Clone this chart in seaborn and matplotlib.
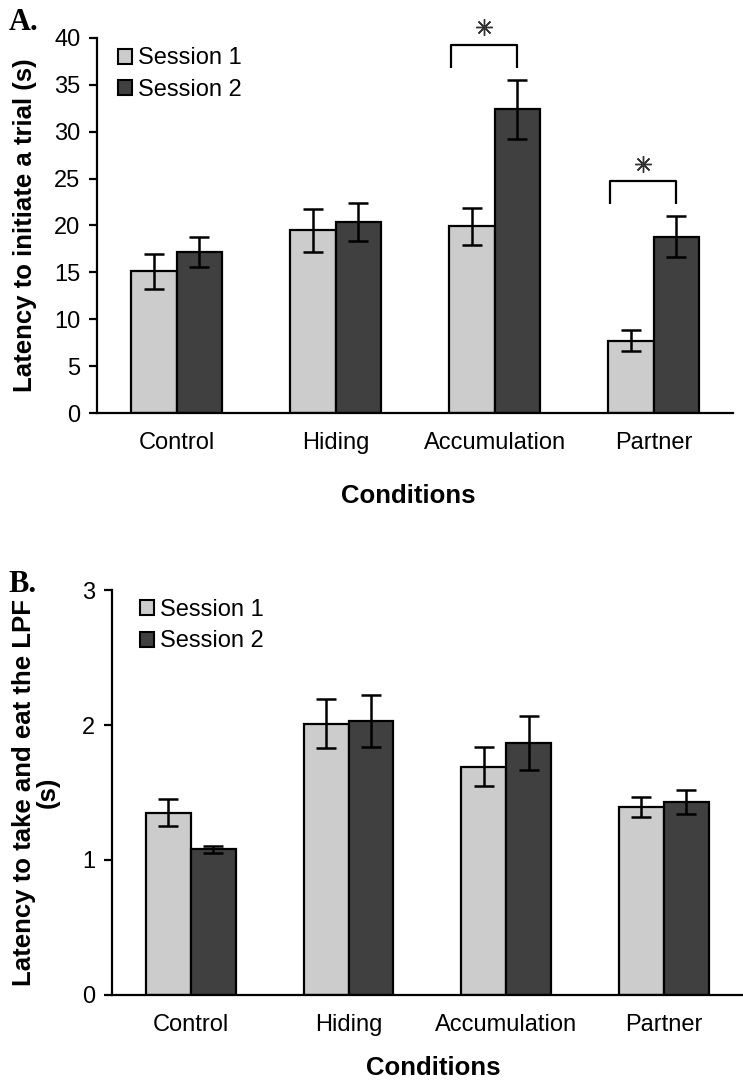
import seaborn as sns
import matplotlib.pyplot as plt
import matplotlib.patches as mpatches
import pandas as pd
import numpy as np

# ----------------------------
# Data
# ----------------------------
conditions = ['Control', 'Hiding', 'Accumulation', 'Partner']
sessions = ['Session 1', 'Session 2']

# Panel A: latency to initiate a trial (s)
init_s1 = [15.1, 19.5, 19.9, 7.7]
init_s2 = [17.2, 20.4, 32.4, 18.8]
init_err_s1 = [1.9, 2.3, 1.95, 1.1]
init_err_s2 = [1.6, 2.05, 3.15, 2.2]
init_signif = ['Accumulation', 'Partner']

# Panel B: latency to take and eat the LPF (s)
eat_s1 = [1.35, 2.01, 1.69, 1.39]
eat_s2 = [1.08, 2.03, 1.87, 1.43]
eat_err_s1 = [0.10, 0.18, 0.145, 0.074]
eat_err_s2 = [0.027, 0.19, 0.20, 0.089]

colors = {'Session 1': '#cccccc', 'Session 2': '#404040'}


def make_df(s1, s2, e1, e2):
    rows = []
    for c, v, e in zip(conditions, s1, e1):
        rows.append([c, 'Session 1', v, e])
    for c, v, e in zip(conditions, s2, e2):
        rows.append([c, 'Session 2', v, e])
    return pd.DataFrame(rows, columns=['Condition', 'Session', 'Latency', 'SEM'])


df_a = make_df(init_s1, init_s2, init_err_s1, init_err_s2)
df_b = make_df(eat_s1, eat_s2, eat_err_s1, eat_err_s2)

# ----------------------------
# Style
# ----------------------------
sns.set_style("white")
plt.rcParams['font.family'] = ['Liberation Sans', 'DejaVu Sans']
plt.rcParams['text.color'] = 'black'
plt.rcParams['axes.labelcolor'] = 'black'
plt.rcParams['xtick.color'] = 'black'
plt.rcParams['ytick.color'] = 'black'

fig = plt.figure(figsize=(7.43, 10.88), dpi=100)
ax_a = fig.add_axes([0.1306, 0.6204, 0.856, 0.3447])
ax_b = fig.add_axes([0.1507, 0.0855, 0.849, 0.3722])


def draw_panel(ax, df, ymax, yticks, ylabel):
    sns.barplot(data=df, x='Condition', y='Latency', hue='Session',
                order=conditions, hue_order=sessions, palette=colors,
                width=0.57, gap=0, errorbar=None, edgecolor='black',
                linewidth=1.6, legend=False, ax=ax)
    # error bars on top of each bar
    bar_pos = {}
    for sess, cont in zip(sessions, ax.containers):
        sub = df[df['Session'] == sess].set_index('Condition').loc[conditions]
        xs = [p.get_x() + p.get_width() / 2 for p in cont.patches]
        ax.errorbar(xs, sub['Latency'], yerr=sub['SEM'], fmt='none',
                    ecolor='black', elinewidth=1.8, capsize=7, capthick=1.8,
                    zorder=5)
        for c, p in zip(conditions, cont.patches):
            bar_pos[(c, sess)] = p
    ax.set_xlim(-0.5, 3.5)
    ax.set_ylim(0, ymax)
    ax.set_yticks(yticks)
    sns.despine(ax=ax)
    for s in ['left', 'bottom']:
        ax.spines[s].set_linewidth(1.6)
        ax.spines[s].set_color('black')
    ax.tick_params(axis='y', length=6, width=1.6, labelsize=17, pad=6,
                   left=True, color='black')
    ax.tick_params(axis='x', length=0, labelsize=17, pad=14)
    ax.set_xlabel('Conditions', fontsize=18.5, fontweight='bold', va='top')
    ax.set_ylabel(ylabel, fontsize=18.5, fontweight='bold', linespacing=1.0)

    handles = [mpatches.Patch(facecolor=colors[s], edgecolor='black',
                              linewidth=1.5, label=s) for s in sessions]
    return bar_pos, handles


# ----------------------------
# Panel A
# ----------------------------
pos_a, handles = draw_panel(ax_a, df_a, 40, np.arange(0, 41, 5),
                            'Latency to initiate a trial (s)')
ax_a.xaxis.set_label_coords(0.489, -0.19)
ax_a.yaxis.set_label_coords(-0.094, 0.5)
ax_a.legend(handles=handles, loc='upper left', bbox_to_anchor=(0.033, 0.975),
            frameon=False, fontsize=17, handlelength=0.6, handleheight=0.6,
            handletextpad=0.25, labelspacing=0.4, borderpad=0, borderaxespad=0)

# significance brackets
for c in init_signif:
    p1 = pos_a[(c, 'Session 1')]
    p2 = pos_a[(c, 'Session 2')]
    top = df_a[df_a['Condition'] == c].eval('Latency + SEM').max()
    y0 = top + 1.3
    y1 = y0 + 2.4
    x0 = p1.get_x() + 0.01
    x1 = p2.get_x() + p2.get_width() / 2
    ax_a.plot([x0, x0, x1, x1], [y0, y1, y1, y0], color='black', lw=1.6,
              clip_on=False, solid_capstyle='butt')
    ax_a.plot([(x0 + x1) / 2], [y1 + 1.9], marker=(8, 2, 0), markersize=12,
              mew=1.0, color='#333333', clip_on=False)

# ----------------------------
# Panel B
# ----------------------------
pos_b, handles = draw_panel(ax_b, df_b, 3, [0, 1, 2, 3],
                            'Latency to take and eat the LPF\n(s)')
ax_b.xaxis.set_label_coords(0.51, -0.15)
ax_b.yaxis.set_label_coords(-0.082, 0.5)
ax_b.legend(handles=handles, loc='upper left', bbox_to_anchor=(0.044, 0.978),
            frameon=False, fontsize=17, handlelength=0.6, handleheight=0.6,
            handletextpad=0.25, labelspacing=0.4, borderpad=0, borderaxespad=0)

# panel letters
fig.text(0.012, 0.9724, 'A.', family='Liberation Serif', fontweight='bold',
         fontsize=22, va='baseline')
fig.text(0.012, 0.456, 'B.', family='Liberation Serif', fontweight='bold',
         fontsize=22, va='baseline')

plt.savefig('out.png', dpi=100)
plt.close()
